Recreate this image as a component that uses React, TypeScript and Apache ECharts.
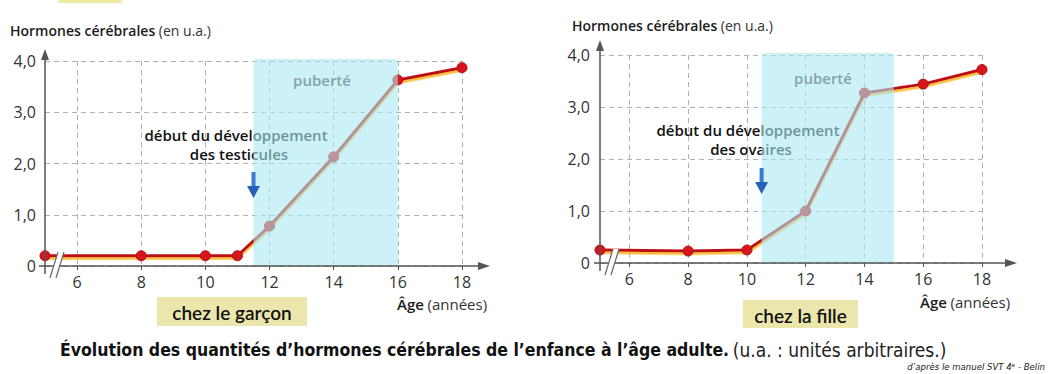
import React, { useEffect, useRef } from 'react';
import * as echarts from 'echarts';

// ---- data ----
const boyAges = [5, 8, 10, 11, 12, 14, 16, 18];
const boyHormones = [0.2, 0.2, 0.2, 0.2, 0.78, 2.13, 3.63, 3.87];
const girlAges = [5, 8, 10, 12, 14, 16, 18];
const girlHormones = [0.25, 0.23, 0.25, 1.0, 3.27, 3.44, 3.72];
const xTicks = [6, 8, 10, 12, 14, 16, 18];
const boyPuberty = [11.5, 16];
const girlPuberty = [10.5, 15];
const boyOnset = 11.5;
const girlOnset = 10.5;

const yTitleBold = 'Hormones cérébrales';
const yTitleUnit = '(en u.a.)';
const xTitleBold = 'Âge';
const xTitleUnit = '(années)';
const boyLabel = 'chez le garçon';
const girlLabel = 'chez la fille';
const boyNote = ['début du développement', 'des testicules'];
const girlNote = ['début du développement', 'des ovaires'];
const pubertyLabel = 'puberté';
const captionBold = 'Évolution des quantités d’hormones cérébrales de l’enfance à l’âge adulte.';
const captionNormal = '(u.a. : unités arbitraires.)';
const credit = 'd’après le manuel SVT 4ᵉ - Belin';

const FONT = "'Open Sans', 'Noto Sans', sans-serif";
const COND = "'Liberation Sans Narrow', 'DejaVu Sans Condensed', 'Open Sans', sans-serif";
const HAND = "'Comic Sans MS', Lato, sans-serif";

const fmtY = (v: number) => (v === 0 ? '0' : v.toFixed(1).replace('.', ','));

function xAxis(gi: number) {
  return {
    type: 'value',
    gridIndex: gi,
    min: 5,
    max: 18,
    axisLine: { show: false },
    axisTick: { show: true, customValues: xTicks, length: 4, lineStyle: { color: '#555' } },
    axisLabel: { customValues: xTicks, color: '#333', fontSize: 16, margin: 8, fontFamily: FONT },
    splitLine: { show: true, lineStyle: { type: [5, 4], color: '#b0b0b0', width: 1 } },
  };
}
function yAxis(gi: number, margin: number) {
  return {
    type: 'value',
    gridIndex: gi,
    min: 0,
    max: 4,
    interval: 1,
    axisLine: { show: false },
    axisTick: { show: false },
    axisLabel: { formatter: fmtY, color: '#333', fontSize: 16, margin, fontFamily: FONT },
    splitLine: { show: true, lineStyle: { type: [5, 4], color: '#b0b0b0', width: 1 } },
  };
}
function series(gi: number, ages: number[], vals: number[]) {
  return {
    type: 'line',
    xAxisIndex: gi,
    yAxisIndex: gi,
    data: ages.map((a, i) => [a, vals[i]]),
    symbol: 'circle',
    symbolSize: 10,
    clip: false,
    z: 3,
    lineStyle: {
      color: '#bf1119',
      width: 3,
      shadowColor: 'rgba(250,175,20,0.85)',
      shadowOffsetY: 2.5,
      shadowBlur: 1,
    },
    itemStyle: { color: '#d6151c', borderColor: '#b50d12', borderWidth: 1 },
  };
}

function txt(x: number, y: number, text: string, o: any = {}) {
  const align = o.align || 'left';
  const va = o.va || 'middle';
  return {
    type: 'text',
    x,
    y,
    z: o.z ?? 20,
    style: {
      text,
      fill: o.fill || '#222',
      fontSize: o.size || 14,
      fontFamily: o.family || FONT,
      fontWeight: o.weight || 'normal',
      fontStyle: o.style || 'normal',
      align,
      verticalAlign: va,
      textAlign: align,
      textVerticalAlign: va,
      rich: o.rich,
    },
  };
}

function panel(chart: any, gi: number, cfg: any) {
  const P = (x: number, y: number) => chart.convertToPixel({ gridIndex: gi }, [x, y]);
  const [x0, y0] = P(5, 0);
  const [x18, yTop] = P(18, 4);
  const [bx1, by1] = P(cfg.band[0], 4);
  const [bx2] = P(cfg.band[1], 0);
  const [ax] = P(cfg.onset, 0);
  const axisColor = '#555';
  const yTip = yTop - cfg.yExt;
  const xTip = x18 + cfg.xExt;
  const els: any[] = [];
  // puberty band (translucent, above curve)
  els.push({
    type: 'rect',
    z: 10,
    shape: { x: bx1, y: by1 - 2, width: bx2 - bx1, height: y0 - by1 + 2, r: [3, 3, 0, 0] },
    style: { fill: 'rgba(170,233,242,0.6)' },
  });
  // axes
  els.push({ type: 'line', z: 20, shape: { x1: x0, y1: y0 + 8, x2: x0, y2: yTip + 6 }, style: { stroke: axisColor, lineWidth: 1.5 } });
  els.push({ type: 'polygon', z: 20, shape: { points: [[x0, yTip], [x0 - 4, yTip + 11], [x0 + 4, yTip + 11]] }, style: { fill: axisColor } });
  els.push({ type: 'line', z: 20, shape: { x1: x0 - 6, y1: y0, x2: xTip - 6, y2: y0 }, style: { stroke: axisColor, lineWidth: 1.5 } });
  els.push({ type: 'polygon', z: 20, shape: { points: [[xTip, y0], [xTip - 12, y0 - 4], [xTip - 12, y0 + 4]] }, style: { fill: axisColor } });
  // break marks
  els.push({
    type: 'polygon',
    z: 21,
    shape: { points: [[x0 + 5, y0 + 12], [x0 + 11, y0 + 12], [x0 + 19, y0 - 14], [x0 + 13, y0 - 14]] },
    style: { fill: '#fff' },
  });
  els.push({ type: 'line', z: 22, shape: { x1: x0 + 5, y1: y0 + 12, x2: x0 + 13, y2: y0 - 14 }, style: { stroke: '#666', lineWidth: 1.2 } });
  els.push({ type: 'line', z: 22, shape: { x1: x0 + 11, y1: y0 + 12, x2: x0 + 19, y2: y0 - 14 }, style: { stroke: '#666', lineWidth: 1.2 } });
  // onset arrow
  els.push({ type: 'rect', z: 22, shape: { x: ax - 2, y: cfg.arrowY, width: 4, height: 15 }, style: { fill: '#3a7bd0' } });
  els.push({
    type: 'polygon',
    z: 22,
    shape: { points: [[ax - 6.5, cfg.arrowY + 14], [ax + 6.5, cfg.arrowY + 14], [ax, cfg.arrowY + 26]] },
    style: { fill: '#2462b8' },
  });
  // texts
  els.push(
    txt(cfg.titleX, cfg.titleY, `{b|${yTitleBold}} {n|${yTitleUnit}}`, {
      rich: {
        b: { fontSize: 14, fontFamily: FONT, fontWeight: 600, fill: '#1c1c1c', color: '#1c1c1c' },
        n: { fontSize: 14, fontFamily: FONT, fontWeight: 400, fill: '#333', color: '#333' },
      },
    }),
  );
  els.push(
    txt(cfg.ageX, cfg.ageY, `{b|${xTitleBold}} {n|${xTitleUnit}}`, {
      rich: {
        b: { fontSize: 15, fontFamily: FONT, fontWeight: 600, fill: '#1c1c1c', color: '#1c1c1c' },
        n: { fontSize: 15, fontFamily: FONT, fontWeight: 400, fill: '#333', color: '#333' },
      },
    }),
  );
  els.push(txt(cfg.noteX, cfg.noteY, cfg.note[0], { align: 'center', size: 15, weight: 600, fill: '#111', z: 5 }));
  els.push(txt(cfg.noteX2, cfg.noteY + 19, cfg.note[1], { align: 'center', size: 15, weight: 600, fill: '#111', z: 5 }));
  els.push(txt(cfg.pubX, cfg.pubY, pubertyLabel, { align: 'center', size: 15, weight: 600, fill: '#84a4ad', z: 12 }));
  els.push({
    type: 'rect',
    z: 1,
    shape: { x: cfg.hl[0], y: cfg.hl[1], width: cfg.hl[2], height: cfg.hl[3] },
    style: { fill: '#ebe6ac' },
  });
  els.push(
    txt(cfg.hl[0] + cfg.hl[2] / 2, cfg.hl[1] + cfg.hl[3] / 2 + 1, cfg.label, {
      align: 'center',
      size: 19,
      weight: 600,
      family: HAND,
      fill: '#111',
      z: 2,
    }),
  );
  return els;
}

export default function App() {
  const ref = useRef<HTMLDivElement>(null);
  useEffect(() => {
    if (!ref.current) return;
    const chart = echarts.init(ref.current, null, { renderer: 'svg' });
    chart.setOption({
      animation: false,
      backgroundColor: '#ffffff',
      grid: [
        { left: 45, top: 61, width: 417, height: 205 },
        { left: 600, top: 55, width: 382, height: 208 },
      ],
      xAxis: [xAxis(0), xAxis(1)],
      yAxis: [yAxis(0, 9), yAxis(1, 10)],
      series: [series(0, boyAges, boyHormones), series(1, girlAges, girlHormones)],
    });
    const left = panel(chart, 0, {
      band: boyPuberty,
      onset: boyOnset,
      yExt: 12,
      xExt: 28,
      arrowY: 172,
      titleX: 10,
      titleY: 30,
      ageX: 397,
      ageY: 304,
      noteX: 236,
      noteX2: 239,
      noteY: 135,
      note: boyNote,
      pubX: 322,
      pubY: 80,
      hl: [157, 297, 150, 29],
      label: boyLabel,
    });
    const right = panel(chart, 1, {
      band: girlPuberty,
      onset: girlOnset,
      yExt: 15,
      xExt: 35,
      arrowY: 168,
      titleX: 572,
      titleY: 25,
      ageX: 920,
      ageY: 302,
      noteX: 748,
      noteX2: 751,
      noteY: 130,
      note: girlNote,
      pubX: 823,
      pubY: 78,
      hl: [743, 300, 115, 28],
      label: girlLabel,
    });
    const extra: any[] = [
      { type: 'rect', z: 1, shape: { x: 58, y: 0, width: 64, height: 3, r: 2 }, style: { fill: '#f1eaa2' } },
      txt(60, 350, `{b|${captionBold}} {n|${captionNormal}}`, {
        rich: {
          b: { fontSize: 17.5, fontFamily: COND, fontWeight: 700, fill: '#111', color: '#111' },
          n: { fontSize: 19, fontFamily: COND, fontWeight: 400, fill: '#222', color: '#222' },
        },
      }),
      txt(1045, 366, credit, { align: 'right', size: 9.5, style: 'italic', family: COND, fill: '#222' }),
    ];
    chart.setOption({ graphic: [...left, ...right, ...extra] });
    return () => chart.dispose();
  }, []);
  return (
    <div
      ref={ref}
      style={{ position: 'absolute', left: 0, top: 0, width: 1053, height: 374, background: '#fff' }}
    />
  );
}
